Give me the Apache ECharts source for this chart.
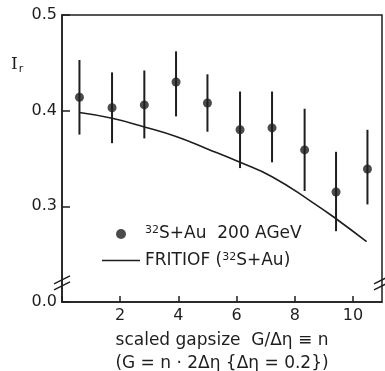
<!DOCTYPE html>
<html>
<head>
<meta charset="utf-8">
<script src="https://cdn.jsdelivr.net/npm/echarts@6/dist/echarts.min.js"></script>
<style>
  html, body { margin: 0; padding: 0; background: #fff; }
  #contain { width: 385px; height: 371px; }
</style>
</head>
<body>
<div id="contain"></div>
<script>
// measured points: gap size n, I_r, error bar low / high
const gapN = [0.6, 1.72, 2.83, 3.92, 5.0, 6.12, 7.22, 8.34, 9.42, 10.5];
const irVal = [0.414, 0.403, 0.406, 0.430, 0.408, 0.380, 0.382, 0.359, 0.315, 0.339];
const irLow = [0.375, 0.366, 0.371, 0.394, 0.378, 0.340, 0.346, 0.316, 0.274, 0.302];
const irHigh = [0.453, 0.440, 0.442, 0.462, 0.438, 0.420, 0.420, 0.402, 0.357, 0.380];

// FRITIOF curve
const fritX = [0.6, 1.72, 2.83, 3.92, 5.0, 6.12, 7.22, 8.57, 9.42, 10.47];
const fritY = [0.398, 0.392, 0.383, 0.373, 0.360, 0.346, 0.331, 0.305, 0.287, 0.263];

const xTicks = [2, 4, 6, 8, 10];
const yTicks = [0.3, 0.4, 0.5]; // bottom tick (0.2 on the broken axis) is labelled 0.0

const ink = '#1e1e1e';
const font = 'DejaVu Sans';

const chartDom = document.getElementById('contain');
const myChart = echarts.init(chartDom);

const option = {
  animation: false,
  backgroundColor: '#fff',
  textStyle: { fontFamily: font, color: ink },
  grid: {
    left: 62, right: 3, top: 15, bottom: 69,
    outerBoundsMode: 'none',
    containLabel: false,
    show: true, borderColor: ink, borderWidth: 1.5
  },
  legend: {
    orient: 'vertical',
    left: 97, top: 220,
    itemWidth: 38, itemHeight: 10, itemGap: 9,
    textStyle: {
      fontFamily: font, fontSize: 17, color: ink,
      rich: { sup: { fontSize: 11, verticalAlign: 'top', padding: [0, 0, 7, 0], fontFamily: font, color: ink } }
    },
    formatter: (name) => name === 'data'
      ? '{sup|32}S+Au  200 AGeV'
      : 'FRITIOF ({sup|32}S+Au)',
    data: [
      { name: 'data', icon: 'circle', itemStyle: { color: ink } },
      { name: 'fritiof', icon: 'path://M0,0L38,0L38,1.6L0,1.6Z', itemStyle: { color: ink } }
    ]
  },
  xAxis: {
    type: 'value', min: 0, max: 11, interval: 2,
    axisLine: { lineStyle: { color: ink, width: 1.5 } },
    axisTick: { inside: true, length: 6, lineStyle: { color: ink, width: 1.5 } },
    splitLine: { show: false },
    axisLabel: {
      fontSize: 16, color: ink, fontFamily: font, margin: 6, showMaxLabel: false,
      formatter: (v) => xTicks.includes(v) ? String(v) : ''
    },
    name: 'scaled gapsize  G/\u0394\u03b7 \u2261 n\n(G = n \u00b7 2\u0394\u03b7 {\u0394\u03b7 = 0.2})',
    nameLocation: 'middle', nameGap: 24,
    nameTextStyle: { fontSize: 17, color: ink, fontFamily: font, lineHeight: 23, verticalAlign: 'top' }
  },
  yAxis: {
    type: 'value', min: 0.2, max: 0.5, interval: 0.1,
    axisLine: { show: true, lineStyle: { color: ink, width: 1.5 } },
    axisTick: { show: true, inside: true, length: 8, lineStyle: { color: ink, width: 1.5 } },
    splitLine: { show: false },
    axisLabel: {
      fontSize: 16, color: ink, fontFamily: font, margin: 5,
      formatter: (v) => yTicks.some(t => Math.abs(t - v) < 1e-6) ? v.toFixed(1) : '0.0'
    }
  },
  series: [
    {
      name: 'errors',
      type: 'custom',
      silent: true,
      data: gapN.map((x, i) => [x, irLow[i], irHigh[i]]),
      renderItem: (params, api) => {
        const lo = api.coord([api.value(0), api.value(1)]);
        const hi = api.coord([api.value(0), api.value(2)]);
        return {
          type: 'line',
          shape: { x1: lo[0], y1: lo[1], x2: hi[0], y2: hi[1] },
          style: { stroke: ink, lineWidth: 2 }
        };
      },
      z: 2
    },
    {
      name: 'fritiof',
      type: 'line',
      smooth: true,
      showSymbol: false,
      data: fritX.map((x, i) => [x, fritY[i]]),
      lineStyle: { color: ink, width: 1.6 },
      z: 3
    },
    {
      name: 'data',
      type: 'scatter',
      symbol: 'circle',
      symbolSize: 9,
      data: gapN.map((x, i) => [x, irVal[i]]),
      itemStyle: { color: ink },
      z: 4
    }
  ]
};

myChart.setOption(option);

// y axis title and axis-break marks
const yBreak = myChart.convertToPixel({ gridIndex: 0 }, [0, 0.22]);
const xRight = myChart.convertToPixel({ gridIndex: 0 }, [11, 0.22]);
const slash = (cx, cy, dy) => ({
  type: 'line',
  shape: { x1: cx - 8, y1: cy + 4 + dy, x2: cx + 8, y2: cy - 4 + dy },
  style: { stroke: ink, lineWidth: 1.4 }
});
myChart.setOption({
  graphic: [
    {
      type: 'text', left: 11, top: 56,
      style: {
        text: 'I{sub|r}',
        font: '17px "DejaVu Serif"', fill: ink,
        rich: { sub: { fontSize: 11, fontFamily: 'DejaVu Sans', fill: ink, padding: [9, 0, 0, 1] } }
      }
    },
    slash(yBreak[0], yBreak[1], -3),
    slash(yBreak[0], yBreak[1], 3),
    slash(xRight[0], xRight[1], -3),
    slash(xRight[0], xRight[1], 3)
  ]
});
</script>
</body>
</html>
